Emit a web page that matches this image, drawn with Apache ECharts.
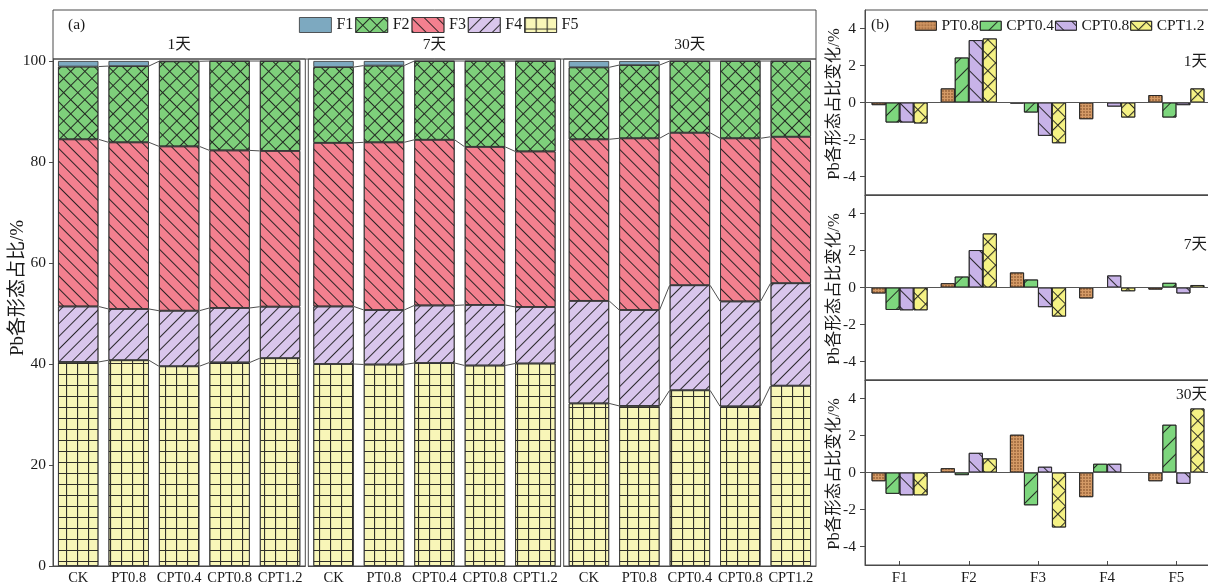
<!DOCTYPE html>
<html><head><meta charset="utf-8">
<script src="https://cdn.jsdelivr.net/npm/echarts@6/dist/echarts.min.js"></script>
<style>html,body{margin:0;padding:0;background:#fff}#c{width:1208px;height:585px}</style>
</head><body><div id="c"></div>
<script>
// ---------- data ----------
const treatments = ['CK', 'PT0.8', 'CPT0.4', 'CPT0.8', 'CPT1.2'];
const periods = ['1天', '7天', '30天'];
const fractions = ['F1', 'F2', 'F3', 'F4', 'F5'];
// panel (a): Pb fraction share (%), one row per period, one value per treatment
const F1 = [[1.1, 1.0, 0.05, 0, 0], [1.2, 0.9, 0, 0, 0], [1.25, 0.8, 0, 0, 0]];
const F2 = [[14.4, 15.1, 16.85, 17.7, 17.8], [15.0, 15.2, 15.6, 17.0, 17.9], [14.25, 14.5, 14.2, 15.3, 15.0]];
const F3 = [[33.1, 33.0, 32.55, 31.2, 30.85], [32.4, 33.2, 32.8, 31.3, 30.8], [32.0, 34.0, 30.2, 32.3, 29.0]];
const F4 = [[11.0, 10.15, 11.0, 10.8, 10.2], [11.4, 10.8, 11.4, 12.0, 11.2], [20.3, 19.0, 20.8, 20.8, 20.3]];
const F5 = [[40.4, 40.75, 39.55, 40.3, 41.15], [40.0, 39.9, 40.2, 39.7, 40.1], [32.2, 31.7, 34.8, 31.6, 35.7]];
const yTicksA = [0, 20, 40, 60, 80, 100];
// panel (b): change vs CK (%), one row per period, one value per fraction F1..F5
const bTreat = ['PT0.8', 'CPT0.4', 'CPT0.8', 'CPT1.2'];
const dPT08  = [[-0.14, 0.76, -0.05, -0.9, 0.4], [-0.32, 0.23, 0.81, -0.59, -0.11], [-0.47, 0.23, 2.04, -1.33, -0.47]];
const dCPT04 = [[-1.08, 2.43, -0.54, 0.0, -0.81], [-1.21, 0.59, 0.43, 0.0, 0.25], [-1.15, -0.14, -1.77, 0.47, 2.58]];
const dCPT08 = [[-1.08, 3.37, -1.8, -0.22, -0.14], [-1.23, 2.02, -1.06, 0.65, -0.32], [-1.23, 1.06, 0.31, 0.47, -0.61]];
const dCPT12 = [[-1.13, 3.46, -2.2, -0.81, 0.76], [-1.23, 2.92, -1.57, -0.2, 0.13], [-1.23, 0.76, -2.97, 0.0, 3.46]];
const yTicksB = [-4, -2, 0, 2, 4];

// ---------- style ----------
const FONT = '"Liberation Serif","Times New Roman","Noto Sans CJK SC",serif';
const TXT = '#1a1a1a';
const AX = '#4a4a4a';
const INK = 'rgba(25,25,25,0.9)';
function stripe(gap, rot) {
  return { symbol: 'rect', symbolSize: 1, color: INK, dashArrayX: [1, 0], dashArrayY: [1, gap], rotation: rot };
}
function gridDecal(cell, rot) {
  return { symbol: 'path://M0,0H10V1H1V10H0Z', symbolSize: 1, symbolKeepAspect: false, color: INK,
           dashArrayX: [cell, 0], dashArrayY: [cell, 0], rotation: rot };
}
const styleA = {
  F1: { color: '#7DA9C0' },
  F2: { color: '#7ED07B', decal: gridDecal(10, Math.PI / 4) },
  F3: { color: '#F3808F', decal: stripe(8, Math.PI / 4) },
  F4: { color: '#D9C6EC', decal: stripe(8, -Math.PI / 4) },
  F5: { color: '#F8F6B8', decal: gridDecal(11, 0) }
};
const styleB = [
  { color: '#D49A66', decal: { symbol: 'circle', symbolSize: 0.9, color: 'rgba(110,60,25,0.6)', dashArrayX: [2, 1], dashArrayY: [2, 1] } },
  { color: '#7DD67D', decal: stripe(11, -Math.PI / 4) },
  { color: '#C8B3E8', decal: stripe(11, Math.PI / 4) },
  { color: '#F5F285', decal: gridDecal(11, Math.PI / 4) }
];
const dataA = { F1, F2, F3, F4, F5 };
const dataB = [dPT08, dCPT04, dCPT08, dCPT12];

// ---------- layout ----------
const aLeft = [53, 308.3, 563.7], aW = 252.3;
const bTop = [10, 195, 380], bH = 185;

const grid = [], xAxis = [], yAxis = [], series = [];
const txt = (size) => ({ fontFamily: FONT, fontSize: size, color: TXT });

// panel (a)
for (let g = 0; g < 3; g++) {
  grid.push({ left: aLeft[g], width: aW, top: 59, bottom: 19, show: true, borderColor: AX, borderWidth: 1,
              backgroundColor: 'transparent', outerBoundsMode: 'none' });
  xAxis.push({ type: 'category', gridIndex: g, data: treatments,
    axisLine: { show: true, onZero: false, lineStyle: { color: AX } },
    axisTick: { show: true, inside: true, alignWithLabel: true, length: 3, lineStyle: { color: AX } },
    axisLabel: Object.assign({ interval: 0, margin: 5 }, txt(14.5)) });
  yAxis.push({ type: 'value', gridIndex: g, min: 0, max: 100.4, show: g === 0,
    axisLine: { show: true, lineStyle: { color: AX } },
    axisTick: { show: true, length: 4, customValues: yTicksA, lineStyle: { color: AX } },
    axisLabel: Object.assign({ customValues: yTicksA, margin: 7 }, txt(15.5)),
    splitLine: { show: false } });
  ['F5', 'F4', 'F3', 'F2', 'F1'].forEach(f => {
    series.push({ type: 'bar', name: f, xAxisIndex: g, yAxisIndex: g, stack: 'a' + g,
      barWidth: '80%', data: dataA[f][g],
      itemStyle: Object.assign({ borderColor: '#333', borderWidth: 0.8 }, styleA[f]),
      emphasis: { disabled: true } });
  });
  // connector lines between neighbouring bars
  const conn = [];
  for (let i = 0; i < 4; i++) {
    const row = [i];
    [i, i + 1].forEach(j => {
      let c = 0;
      ['F5', 'F4', 'F3', 'F2'].forEach(f => { c += dataA[f][g][j]; row.push(c); });
    });
    conn.push(row);
  }
  series.push({ type: 'custom', xAxisIndex: g, yAxisIndex: g, data: conn, silent: true, clip: false, z: 5,
    encode: { x: 0, y: 1 },
    renderItem: function (params, api) {
      const i = api.value(0);
      const half = api.size([1, 0])[0] * 0.4;
      const ch = [];
      for (let k = 0; k < 4; k++) {
        const p0 = api.coord([i, api.value(1 + k)]);
        const p1 = api.coord([i + 1, api.value(5 + k)]);
        ch.push({ type: 'line', shape: { x1: p0[0] + half, y1: p0[1], x2: p1[0] - half, y2: p1[1] },
                  style: { stroke: '#3a3a3a', lineWidth: 0.9 } });
      }
      return { type: 'group', children: ch };
    } });
}

// panel (b)
for (let k = 0; k < 3; k++) {
  const gi = 3 + k;
  grid.push({ left: 865, width: 346, top: bTop[k], height: bH, show: true, borderColor: AX, borderWidth: 1,
              backgroundColor: 'transparent', outerBoundsMode: 'none' });
  xAxis.push({ type: 'category', gridIndex: gi, data: fractions,
    axisLine: { show: true, onZero: false, lineStyle: { color: AX } },
    axisTick: { show: k === 2, inside: true, alignWithLabel: true, length: 4, lineStyle: { color: AX } },
    axisLabel: Object.assign({ show: k === 2, interval: 0, margin: 6 }, txt(15)) });
  yAxis.push({ type: 'value', gridIndex: gi, min: -5, max: 5,
    axisLine: { show: true, lineStyle: { color: AX } },
    axisTick: { show: true, length: 5, customValues: yTicksB, lineStyle: { color: AX } },
    axisLabel: Object.assign({ customValues: yTicksB, margin: 9 }, txt(15.5)),
    splitLine: { show: false } });
  bTreat.forEach((t, ti) => {
    const s = { type: 'bar', name: t, xAxisIndex: gi, yAxisIndex: gi, data: dataB[ti][k],
      barWidth: 14, barGap: '0%',
      itemStyle: Object.assign({ borderColor: '#222', borderWidth: 0.8 }, styleB[ti]),
      emphasis: { disabled: true } };
    if (ti === 0) {
      s.markLine = { silent: true, symbol: 'none', label: { show: false },
        lineStyle: { color: '#555', type: 'solid', width: 1 }, data: [{ yAxis: 0 }] };
    }
    series.push(s);
  });
}

// ---------- text / decorations ----------
const T = (x, y, text, size, align, rot) => ({ type: 'text', x, y, rotation: rot || 0, silent: true, z: 100,
  style: { text, font: size + 'px ' + FONT, fill: TXT, align: align || 'left', textAlign: align || 'left',
           verticalAlign: 'middle', textVerticalAlign: 'middle' } });
const graphic = [
  { type: 'rect', silent: true, shape: { x: 53, y: 10, width: 763, height: 49 },
    style: { fill: 'none', stroke: AX, lineWidth: 1 } },
  T(68, 25, '(a)', 15.5),
  T(aLeft[0] + aW / 2, 45, periods[0], 15.5, 'center'),
  T(aLeft[1] + aW / 2, 45, periods[1], 15.5, 'center'),
  T(aLeft[2] + aW / 2, 45, periods[2], 15.5, 'center'),
  T(18, 288, 'Pb各形态占比/%', 19, 'center', Math.PI / 2),
  T(871, 25, '(b)', 15.5),
  T(1207, 62, periods[0], 15.5, 'right'),
  T(1207, 245, periods[1], 15.5, 'right'),
  T(1207, 395, periods[2], 15.5, 'right'),
  T(835, 104, 'Pb各形态占比变化/%', 16.5, 'center', Math.PI / 2),
  T(835, 289, 'Pb各形态占比变化/%', 16.5, 'center', Math.PI / 2),
  T(835, 474, 'Pb各形态占比变化/%', 16.5, 'center', Math.PI / 2)
];

const chart = echarts.init(document.getElementById('c'));
chart.setOption({
  animation: false,
  backgroundColor: '#fff',
  grid, xAxis, yAxis, series, graphic,
  legend: [
    { data: fractions, left: 299, top: 17, padding: 0, itemWidth: 32, itemHeight: 15, itemGap: 2,
      icon: 'rect', selectedMode: false, textStyle: txt(16),
      itemStyle: { borderColor: '#333', borderWidth: 0.8 } },
    { data: bTreat, left: 915, top: 18, padding: 0, itemWidth: 21, itemHeight: 9, itemGap: 1,
      icon: 'rect', selectedMode: false, textStyle: txt(15.5),
      itemStyle: { borderColor: '#222', borderWidth: 0.8 } }
  ]
});
</script></body></html>
